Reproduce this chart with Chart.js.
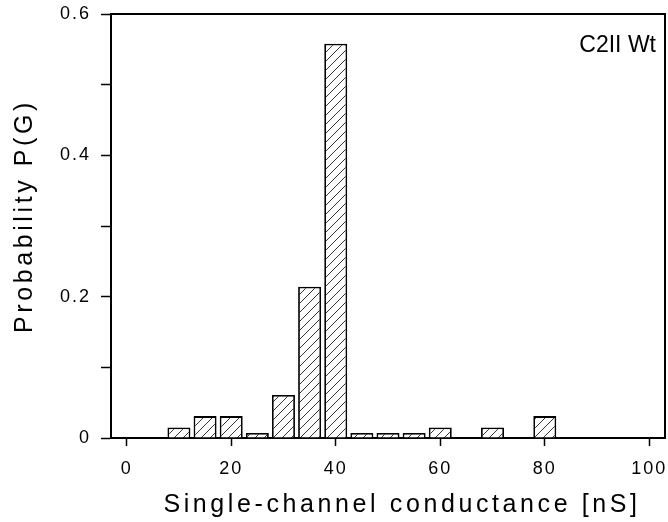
<!DOCTYPE html>
<html>
<head>
<meta charset="utf-8">
<script src="https://cdn.jsdelivr.net/npm/chart.js@4/dist/chart.umd.min.js"></script>
<style>
  html, body { margin: 0; padding: 0; background: #fff; }
</style>
</head>
<body>
<canvas id="histChart" width="668" height="522"></canvas>
<script>
// data (histogram konduktansi)
const conductance = [10, 15, 20, 25, 30, 35, 40, 45, 50, 55, 60, 70, 80];
const probability = [0.015, 0.031, 0.031, 0.007, 0.061, 0.214, 0.558, 0.007, 0.007, 0.007, 0.015, 0.015, 0.031];
const xTicks = [0, 20, 40, 60, 80, 100];
const yTicks = [0, 0.1, 0.2, 0.3, 0.4, 0.5, 0.6];
const yLabels = ["0", "", "0.2", "", "0.4", "", "0.6"];
const xTitle = "Single-channel conductance [nS]";
const yTitle = "Probability P(G)";
const note = "C2II Wt";

const FONT = "'Liberation Sans', Arial, Helvetica, sans-serif";

// pola arsir miring
function hatch() {
    const c = document.createElement("canvas");
    c.width = 9; c.height = 9;
    const g = c.getContext("2d");
    g.fillStyle = "#fff";
    g.fillRect(0, 0, 9, 9);
    g.strokeStyle = "#333";
    g.lineWidth = 1;
    g.beginPath();
    g.moveTo(-1, 10); g.lineTo(10, -1);
    g.stroke();
    return g.createPattern(c, "repeat");
}

// spasi huruf untuk label tick
const spacing = {
    id: "spacing",
    beforeLayout(chart) { chart.ctx.letterSpacing = "2px"; },
    beforeDraw(chart) { chart.ctx.letterSpacing = "2px"; }
};

// area plot dikunci supaya sama dengan gambar
function noPad(s) {
    s.paddingLeft = 0; s.paddingRight = 0;
    s.paddingTop = 0; s.paddingBottom = 0;
}

const extras = {
    id: "extras",
    afterDraw(chart) {
        const { ctx, chartArea: a } = chart;
        ctx.save();
        ctx.strokeStyle = "#000";
        ctx.lineWidth = 2;
        ctx.beginPath();
        ctx.moveTo(a.left, a.top);
        ctx.lineTo(a.right, a.top);
        ctx.lineTo(a.right, a.bottom);
        ctx.stroke();

        ctx.fillStyle = "#000";
        ctx.letterSpacing = "0px";
        ctx.font = "23px " + FONT;
        ctx.textAlign = "right";
        ctx.textBaseline = "middle";
        ctx.fillText(note, 656, 46);

        ctx.font = "25px " + FONT;
        ctx.letterSpacing = "3.6px";
        ctx.textAlign = "center";
        ctx.fillText(xTitle, 402, 505);
        ctx.translate(25, 216);
        ctx.rotate(-Math.PI / 2);
        ctx.fillText(yTitle, 0, 0);
        ctx.restore();
    }
};

new Chart(document.getElementById("histChart"), {
    type: "bar",
    data: {
        datasets: [{
            data: conductance.map((x, i) => ({ x: x, y: probability[i] })),
            backgroundColor: hatch(),
            borderColor: "#000",
            borderWidth: 1.8,
            barPercentage: 0.88,
            categoryPercentage: 1
        }]
    },
    options: {
        responsive: false,
        animation: false,
        devicePixelRatio: 1,
        layout: { padding: { top: 14, right: 3, left: 0, bottom: 0 } },
        plugins: { legend: { display: false }, tooltip: { enabled: false } },
        scales: {
            x: {
                type: "linear",
                min: -3,
                max: 103,
                offset: false,
                afterBuildTicks: s => { s.ticks = xTicks.map(v => ({ value: v })); },
                afterFit: s => { s.height = 84; noPad(s); },
                ticks: { color: "#000", font: { family: FONT, size: 18 }, padding: 12, maxRotation: 0, autoSkip: false },
                grid: { offset: false, drawOnChartArea: false, drawTicks: true, tickLength: 8, tickColor: "#000", tickWidth: 1.5 },
                border: { color: "#000", width: 2 }
            },
            y: {
                min: 0,
                max: 0.6,
                afterBuildTicks: s => { s.ticks = yTicks.map(v => ({ value: v })); },
                afterFit: s => { s.width = 111; noPad(s); },
                ticks: {
                    color: "#000",
                    font: { family: FONT, size: 18 },
                    padding: 10,
                    autoSkip: false,
                    callback: (v, i) => yLabels[i]
                },
                grid: { drawOnChartArea: false, drawTicks: true, tickLength: 10, tickColor: "#000", tickWidth: 1.5 },
                border: { color: "#000", width: 2 }
            }
        }
    },
    plugins: [spacing, extras]
});
</script>
</body>
</html>
